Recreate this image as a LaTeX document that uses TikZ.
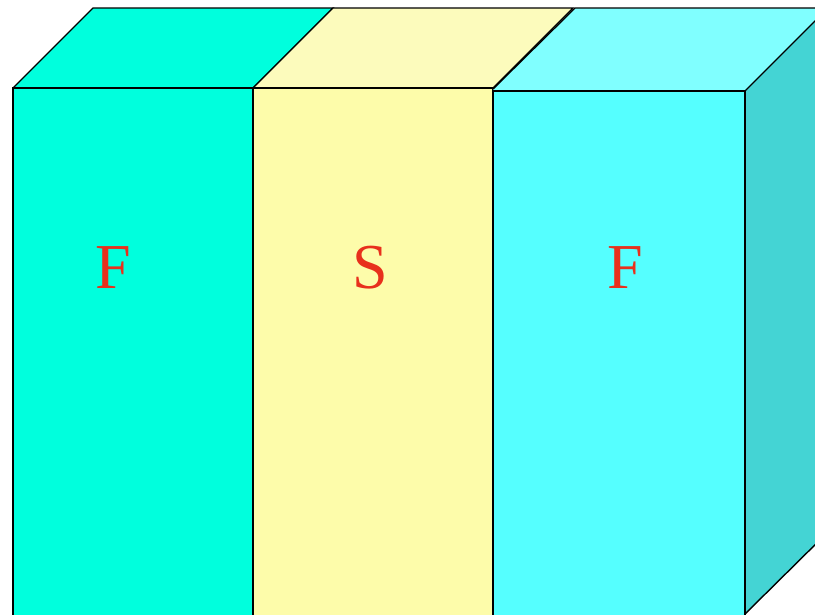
\documentclass[tikz,border=0pt]{standalone}
\usepackage{fontspec}
\setmainfont{Liberation Serif}
\definecolor{fgreen}{HTML}{00FFDD}
\definecolor{syellow}{HTML}{FDFCAA}
\definecolor{stop}{HTML}{FCFBBC}
\definecolor{rfront}{HTML}{55FFFF}
\definecolor{rtop}{HTML}{80FFFF}
\definecolor{rside}{HTML}{44D4D4}
\definecolor{lbl}{HTML}{E8301C}
\tikzset{face/.style={draw=black,line width=1.4pt,line join=miter},
  lab/.style={text=lbl,font=\fontsize{64}{64}\selectfont,inner sep=0pt}}
\begin{document}
\begin{tikzpicture}[x=1pt,y=-1pt]
\useasboundingbox (0,0) rectangle (815,614);
\clip (0,0) rectangle (815,614);
% left F slab
\fill[fgreen] (13,88) -- (93,8) -- (333,8) -- (253,88) -- cycle;
\draw[face] (13,88) -- (93,8) -- (333,8) -- (253,88);
\fill[fgreen] (13,88) rectangle (253,630);
\draw[face] (13,630) -- (13,88) -- (253,88) -- (253,630);
% middle S slab
\fill[stop] (253,88) -- (333,8) -- (573,8) -- (493,88) -- cycle;
\draw[face] (253,88) -- (333,8) -- (573,8) -- (493,88);
\fill[syellow] (253,88) rectangle (493,630);
\draw[face] (253,630) -- (253,88) -- (493,88) -- (493,630);
% right F slab
\fill[rtop] (493,89) -- (575,8) -- (830,8) -- (745,91) -- (493,91) -- cycle;
\draw[face] (493,89) -- (575,8) -- (830,8);
\fill[rside] (745,91) -- (830,6) -- (830,530) -- (745,614) -- cycle;
\draw[face] (745,91) -- (830,6);
\draw[face] (745,614) -- (830,530);
\fill[rfront] (493,91) rectangle (745,630);
\draw[face] (493,630) -- (493,91) -- (745,91) -- (745,630);
% labels
\node[lab] (f1) at (113,268) {F};
\node[lab] (s) at (370,268) {S};
\node[lab] (f2) at (625,268) {F};
\end{tikzpicture}
\end{document}
